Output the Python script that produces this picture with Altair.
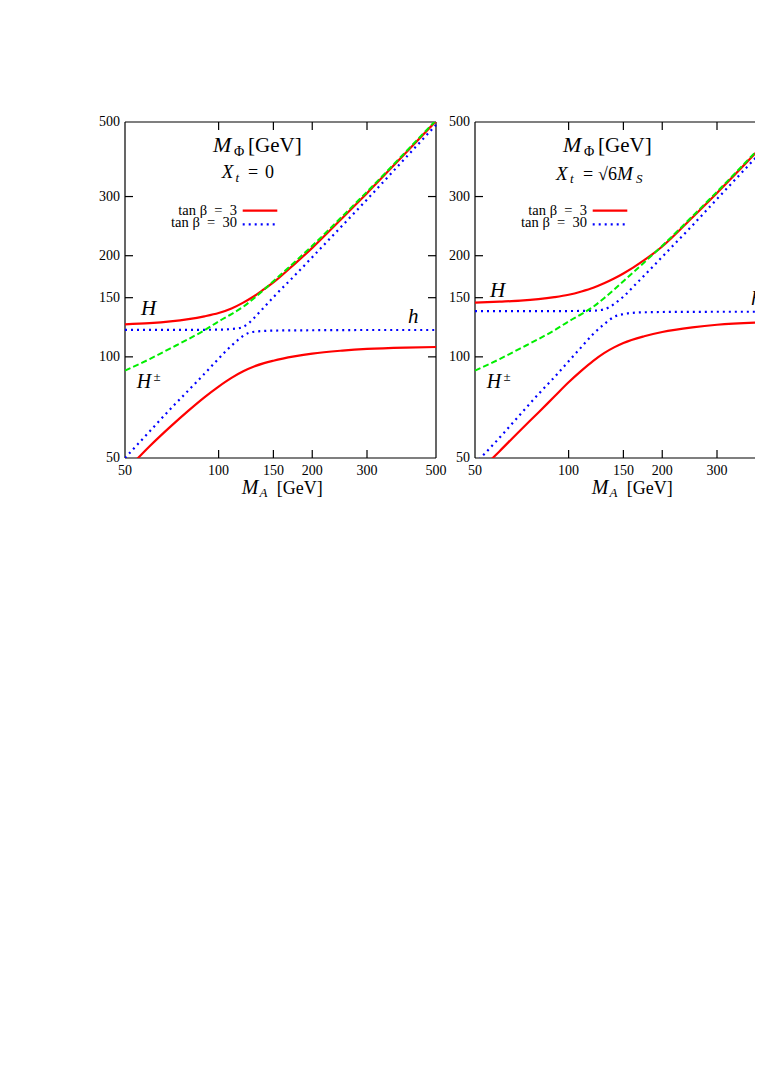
import altair as alt
import pandas as pd

# ---------------- data ----------------
X_TICKS = [50, 100, 150, 200, 300, 500]
X_TICKS_RIGHT = [50, 100, 150, 200, 300]      # 500 lies beyond the page edge
Y_TICKS = [50, 100, 150, 200, 300, 500]

# common M_A grid
MA_GRID = [50, 60, 70, 80, 90, 100, 110, 120, 130, 140, 150, 175, 200, 250, 300, 400, 500]

# charged Higgs (same in both panels)
GREEN_HPM = [91, 98.5, 106, 113, 120, 127.5, 134, 141, 149.5, 158.5, 168, 191, 214, 262, 310, 408, 506]

# ---- left panel, X_t = 0 ----
L_RED_H = [125, 126, 127.5, 129.5, 132, 135, 139.3, 145, 151.5, 159, 166.5, 188.5, 211, 259, 307, 405, 503]
L_RED_h = [45.5, 54.2, 62, 69.2, 75.8, 81.6, 86.6, 90.6, 93.6, 95.8, 97.4, 100.3, 102.3, 104.4, 105.6, 106.6, 107]
L_BLUE_h_MA = [50, 60, 70, 80, 90, 100, 106, 110, 115, 120, 125, 130, 140, 150, 175, 200, 300, 500]
L_BLUE_h = [50, 60, 70, 79.5, 89, 98.8, 104.5, 108, 112, 115.5, 117.8, 118.8, 119.4, 119.7, 119.9, 120, 120.2, 120.2]
L_BLUE_H_MA = [50, 80, 100, 110, 115, 120, 125, 130, 140, 145, 150, 175, 200, 250, 300, 400, 500]
L_BLUE_H = [120.3, 120.3, 120.5, 121, 121.6, 122.8, 126, 130.5, 140.5, 145.5, 150.5, 174, 198, 246, 294, 392, 490]

# ---- right panel, X_t = sqrt(6) M_S ----
R_RED_H = [145, 146, 147, 148.5, 150.5, 153, 156.5, 160.5, 165.5, 171, 177, 194, 213, 260, 307.5, 405, 504]
R_RED_h = [44.3, 52.4, 60.5, 68.3, 76.2, 84, 91, 97.3, 102.6, 106.7, 110, 115.2, 118.6, 122.4, 124.6, 126.4, 127]
R_BLUE_h_MA = [50, 60, 70, 80, 90, 100, 110, 120, 130, 140, 150, 160, 175, 200, 300, 500]
R_BLUE_h = [48, 57.5, 67.5, 77.5, 87, 97, 107, 117, 125, 131.5, 134, 135.2, 135.7, 136, 136.2, 136.2]
R_BLUE_H_MA = [50, 100, 120, 125, 130, 135, 140, 146, 150, 160, 175, 200, 250, 300, 400, 500]
R_BLUE_H = [136.8, 136.9, 137.2, 137.6, 138.5, 140.5, 143.5, 148, 151, 160.5, 174.5, 198.5, 246, 295, 392, 490]

# ---------------- layout / style ----------------
W, H = 311, 336          # panel plot size
OFF = 350                # x offset of right panel inside the shared view
VIEW_W = 630             # visible width (right panel cut by the page edge)
FONT = "Liberation Serif"
RED, BLUE, GREEN = "#ff0000", "#0000ff", "#00ee00"

xsL = alt.Scale(type="log", domain=[50, 500], range=[0, W])
xsR = alt.Scale(type="log", domain=[50, 500], range=[OFF, OFF + W])
ys = alt.Scale(type="log", domain=[50, 500], range=[H, 0])

one = pd.DataFrame({"a": [0]})


def curve(xv, yv, xscale, color, dash=None, width=2.0):
    df = pd.DataFrame({"ma": xv, "m": yv})
    kw = dict(clip=True, color=color, strokeWidth=width, interpolate="monotone")
    if dash:
        kw["strokeDash"] = dash
    return alt.Chart(df).mark_line(**kw).encode(
        x=alt.X("ma:Q", scale=xscale, axis=None),
        y=alt.Y("m:Q", scale=ys, axis=None),
    )


def txt(s, x, y, size, italic=False, align="left", baseline="alphabetic", clip=False):
    kw = dict(text=s, font=FONT, fontSize=size, align=align, baseline=baseline, color="black")
    if italic:
        kw["fontStyle"] = "italic"
    if clip:
        kw["clip"] = True
    return alt.Chart(one).mark_text(**kw).encode(x=alt.value(x), y=alt.value(y))


def rule(x, x2, y, y2, color="black", width=1.0, dash=None):
    kw = dict(color=color, strokeWidth=width)
    if dash:
        kw["strokeDash"] = dash
    return alt.Chart(one).mark_rule(**kw).encode(
        x=alt.value(x), x2=alt.value(x2), y=alt.value(y), y2=alt.value(y2)
    )


inner_x = [t for t in X_TICKS if 50 < t < 500]
inner_y = [t for t in Y_TICKS if 50 < t < 500]
TL = 8  # tick length


def panel(xscale, off, xlabels, red_H, red_h, blue_h_ma, blue_h, blue_H_ma, blue_H, sub_pieces, full):
    layers = []
    # frame
    right = min(off + W, VIEW_W)
    layers.append(rule(off, right, 0, 0, width=1.2))
    layers.append(rule(off, right, H, H, width=1.2))
    layers.append(rule(off, off, 0, H, width=1.2))
    if full:
        layers.append(rule(off + W, off + W, 0, H, width=1.2))
    # inward ticks
    dx = pd.DataFrame({"v": inner_x})
    dy = pd.DataFrame({"v": inner_y})
    for y0, y1 in [(H, H - TL), (0, TL)]:
        layers.append(alt.Chart(dx).mark_rule(color="black", strokeWidth=1.2).encode(
            x=alt.X("v:Q", scale=xscale, axis=None), y=alt.value(y0), y2=alt.value(y1)))
    edges = [(off, off + TL)] + ([(off + W, off + W - TL)] if full else [])
    for x0, x1 in edges:
        layers.append(alt.Chart(dy).mark_rule(color="black", strokeWidth=1.2).encode(
            y=alt.Y("v:Q", scale=ys, axis=None), x=alt.value(x0), x2=alt.value(x1)))
    # tick labels
    layers.append(alt.Chart(pd.DataFrame({"v": xlabels, "lab": [str(t) for t in xlabels]}))
                  .mark_text(font=FONT, fontSize=14, align="center", baseline="middle", color="black")
                  .encode(x=alt.X("v:Q", scale=xscale, axis=None), y=alt.value(H + 13), text="lab:N"))
    layers.append(alt.Chart(pd.DataFrame({"v": Y_TICKS, "lab": [str(t) for t in Y_TICKS]}))
                  .mark_text(font=FONT, fontSize=14, align="right", baseline="middle", color="black")
                  .encode(y=alt.Y("v:Q", scale=ys, axis=None), x=alt.value(off - 5), text="lab:N"))
    # curves
    layers.append(curve(MA_GRID, red_H, xscale, RED, width=2.2))
    layers.append(curve(MA_GRID, red_h, xscale, RED, width=2.2))
    layers.append(curve(blue_h_ma, blue_h, xscale, BLUE, dash=[2, 4], width=2.2))
    layers.append(curve(blue_H_ma, blue_H, xscale, BLUE, dash=[2, 4], width=2.2))
    layers.append(curve(MA_GRID, GREEN_HPM, xscale, GREEN, dash=[6, 3], width=2.0))
    # title M_Phi [GeV]
    layers.append(txt("M", off + 88, 30, 22, italic=True))
    layers.append(txt("\u03a6", off + 109, 33.5, 14))
    layers.append(txt("[GeV]", off + 123, 30, 21))
    layers += sub_pieces
    # legend
    layers.append(txt("tan \u03b2\u2002=\u20023", off + 112, 92.5, 14.5, align="right"))
    layers.append(txt("tan \u03b2\u2002=\u200230", off + 112, 104.5, 14.5, align="right"))
    layers.append(rule(off + 117.7, off + 152.3, 88.7, 88.7, color=RED, width=2.2))
    layers.append(rule(off + 117.7, off + 152.3, 102.3, 102.3, color=BLUE, width=2.2, dash=[2, 4]))
    # axis title M_A [GeV]
    layers.append(txt("M", off + 116.7, 372, 20, italic=True))
    layers.append(txt("A", off + 134.5, 375, 13, italic=True))
    layers.append(txt("[GeV]", off + 151.7, 372, 18))
    # H+- label
    layers.append(txt("H", off + 11.7, 266, 20, italic=True))
    layers.append(txt("\u00b1", off + 28.5, 259, 13))
    return layers


left_sub = [
    txt("X", 96.7, 56.3, 19, italic=True),
    txt("t", 110.5, 59.5, 13, italic=True),
    txt("=", 123, 56.3, 18),
    txt("0", 140, 56.3, 18),
    txt("H", 16, 193, 21, italic=True),
    txt("h", 283, 201, 21, italic=True),
]
right_sub = [
    txt("X", 431, 58, 19, italic=True),
    txt("t", 445, 61, 13, italic=True),
    txt("=", 458, 58, 18),
    txt("\u221a6", 473, 58, 18),
    txt("M", 492, 58, 19, italic=True),
    txt("S", 511, 61, 13, italic=True),
    txt("H", 365, 175, 21, italic=True),
    txt("h", 626, 183, 21, italic=True, clip=True),
]

layers = panel(xsL, 0, X_TICKS, L_RED_H, L_RED_h, L_BLUE_h_MA, L_BLUE_h, L_BLUE_H_MA, L_BLUE_H, left_sub, True)
layers += panel(xsR, OFF, X_TICKS_RIGHT, R_RED_H, R_RED_h, R_BLUE_h_MA, R_BLUE_h, R_BLUE_H_MA, R_BLUE_H, right_sub, False)

chart = (
    alt.layer(*layers)
    .resolve_scale(x="independent")
    .properties(
        width=VIEW_W,
        height=H,
        autosize=alt.AutoSizeParams(type="none"),
        padding={"left": 117, "top": 114, "right": 0, "bottom": 80},
        background="white",
    )
    .configure_view(strokeWidth=0)
)

chart.save("out.html", embed_options={"renderer": "svg", "actions": False})
